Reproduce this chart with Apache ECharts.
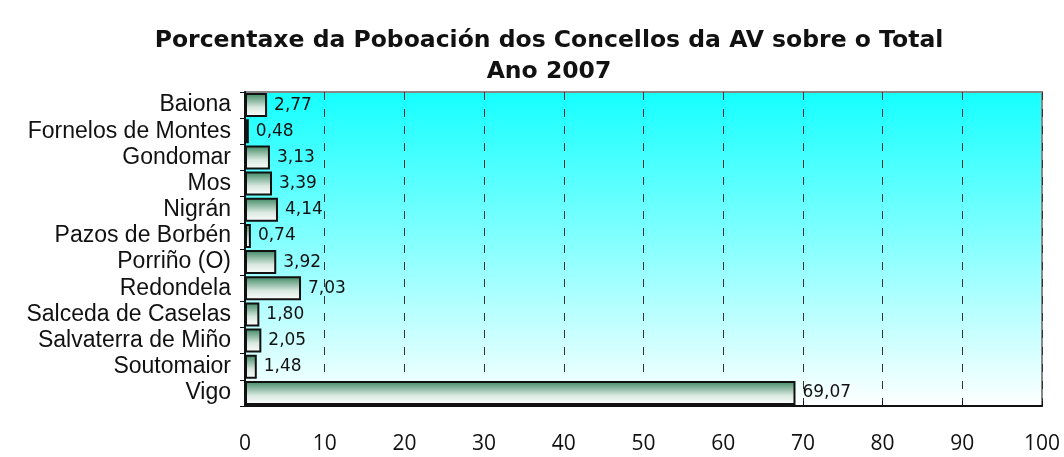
<!DOCTYPE html>
<html><head><meta charset="utf-8">
<script src="https://cdn.jsdelivr.net/npm/echarts@6/dist/echarts.min.js"></script>
<style>html,body{margin:0;padding:0;background:#fff}#c{width:1064px;height:457px}</style>
</head><body><div id="c"></div>
<script>
const categories = ["Baiona","Fornelos de Montes","Gondomar","Mos","Nigrán","Pazos de Borbén","Porriño (O)","Redondela","Salceda de Caselas","Salvaterra de Miño","Soutomaior","Vigo"];
const values = [2.77,0.48,3.13,3.39,4.14,0.74,3.92,7.03,1.80,2.05,1.48,69.07];
const titleLines = ["Porcentaxe da Poboación dos Concellos da AV sobre o Total","Ano 2007"];

const chart = echarts.init(document.getElementById('c'));
chart.setOption({
  animation:false,
  backgroundColor:'#fff',
  title:{
    text: titleLines.join('\n'),
    left: 544, top: 20, textAlign:'center',
    textStyle:{fontFamily:'DejaVu Sans',fontWeight:'bold',fontSize:23.5,lineHeight:31,color:'#111'}
  },
  grid:{
    left:245,right:22,top:92,bottom:51,show:true,borderColor:'#888',borderWidth:2,
    backgroundColor:new echarts.graphic.LinearGradient(0,0,0,1,[{offset:0,color:'#14ffff'},{offset:1,color:'#ffffff'}])
  },
  xAxis:{
    type:'value',min:0,max:100,interval:10,
    axisLine:{show:true,lineStyle:{color:'#111',width:2}},
    axisTick:{show:true,inside:true,length:5,lineStyle:{color:'#111'}},
    axisLabel:{margin:28,fontFamily:'Open Sans',fontSize:21,color:'#111'},
    splitLine:{show:true,lineStyle:{color:'#333',type:[8,9],width:1}}
  },
  yAxis:{
    type:'category',data:categories,inverse:true,
    axisLine:{show:true,lineStyle:{color:'#111',width:2}},
    axisTick:{show:true,length:5,lineStyle:{color:'#111'}},
    axisLabel:{interval:0,margin:14,fontFamily:'Liberation Sans',fontSize:23,color:'#111'}
  },
  series:[{
    type:'bar',data:values,barWidth:24,
    itemStyle:{
      color:new echarts.graphic.LinearGradient(0,0,0,1,[{offset:0,color:'#3a8560'},{offset:0.6,color:'#d8e8df'},{offset:1,color:'#ffffff'}]),
      borderColor:'#111',borderWidth:2
    },
    label:{show:true,position:'right',distance:7,fontFamily:'DejaVu Sans',fontSize:17,color:'#111',
      formatter:p=>p.value.toFixed(2).replace('.',',')}
  }]
});
</script></body></html>
